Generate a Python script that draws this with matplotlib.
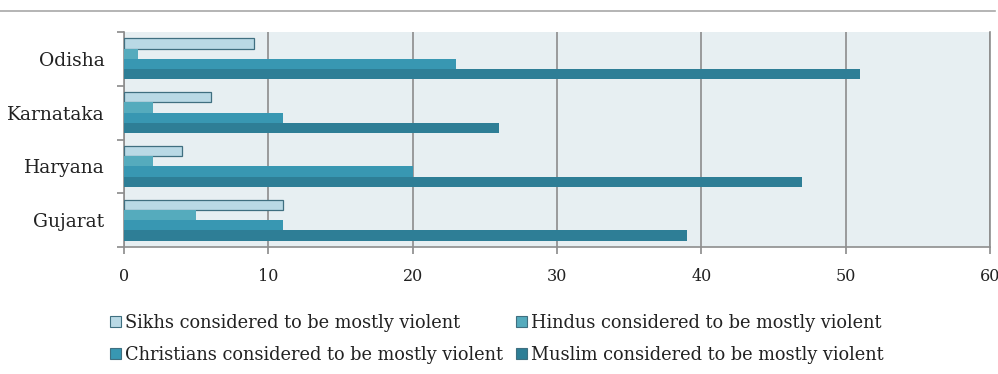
import matplotlib
matplotlib.use("Agg")
import matplotlib.pyplot as plt
import numpy as np
from matplotlib.patches import Patch
from matplotlib.lines import Line2D

states = ["Odisha", "Karnataka", "Haryana", "Gujarat"]
sikhs = [9, 6, 4, 11]
hindus = [1, 2, 2, 5]
christians = [23, 11, 20, 11]
muslims = [51, 26, 47, 39]

series_labels = [
    "Sikhs considered to be mostly violent",
    "Hindus considered to be mostly violent",
    "Christians considered to be mostly violent",
    "Muslim considered to be mostly violent",
]
x_ticks = [0, 10, 20, 30, 40, 50, 60]

colors = ["#b9d9e5", "#55abbd", "#3897b2", "#2e7e96"]
edge = "#3f6f80"

plt.rcParams["font.family"] = ["DejaVu Serif"]

fig = plt.figure(figsize=(9.98, 3.74), dpi=100)
ax = fig.add_axes([124 / 998, 1 - 247 / 374, (990 - 124) / 998, (247 - 32) / 374])
ax.set_facecolor("#e7eff2")

# header rule across the top of the figure
fig.add_artist(Line2D([0, 0.997], [1 - 11 / 374, 1 - 11 / 374], color="#a8a8a8", lw=1.2,
                      transform=fig.transFigure))

n = len(states)
ypos = np.arange(n)[::-1].astype(float)  # Odisha at the top
h = 0.19
data = [sikhs, hindus, christians, muslims]
offsets = [-1.5 * h, -0.5 * h, 0.5 * h, 1.5 * h]
for vals, c, off, lab in zip(data, colors, offsets, series_labels):
    ax.barh(ypos - off, vals, height=h, color=c, edgecolor=edge if c == colors[0] else c,
            linewidth=0.9 if c == colors[0] else 0, label=lab, zorder=3)

ax.set_xlim(0, 60)
ax.set_ylim(-0.5, n - 0.5)
ax.set_xticks(x_ticks)
ax.set_xticklabels([str(t) for t in x_ticks])
ax.tick_params(axis="x", length=5, color="#8a8a8a", width=1.2, pad=10,
               labelsize=11.5, labelcolor="#222222")

# category boundaries as major ticks, state names as minor ticks at the centres
ax.set_yticks(list(np.arange(n) - 0.5) + [n - 0.5])
ax.set_yticklabels([""] * (n + 1))
ax.set_yticks(ypos, minor=True)
ax.set_yticklabels(states, minor=True)
ax.tick_params(axis="y", which="minor", length=0, pad=14, labelsize=13.5,
               labelcolor="#222222")
ax.tick_params(axis="y", which="major", length=5, color="#8a8a8a", width=1.2)

ax.grid(axis="x", color="#8c8c8c", lw=1.2, zorder=1)
ax.spines["top"].set_visible(False)
for s in ["left", "bottom", "right"]:
    ax.spines[s].set_color("#8e8e8e")
    ax.spines[s].set_linewidth(1.2)

handles = [Patch(facecolor=c, edgecolor=edge, linewidth=0.8) for c in colors]
order = [0, 2, 1, 3]
fig.legend([handles[i] for i in order], [series_labels[i] for i in order],
           loc="upper left", bbox_to_anchor=(101 / 998, 1 - 305 / 374), ncol=2,
           frameon=False, fontsize=12.8, handlelength=0.6, handleheight=0.6,
           handletextpad=0.25, columnspacing=0.75, labelspacing=0.8, borderpad=0,
           labelcolor="#222222")

fig.savefig("out.png", dpi=100, facecolor="white")
